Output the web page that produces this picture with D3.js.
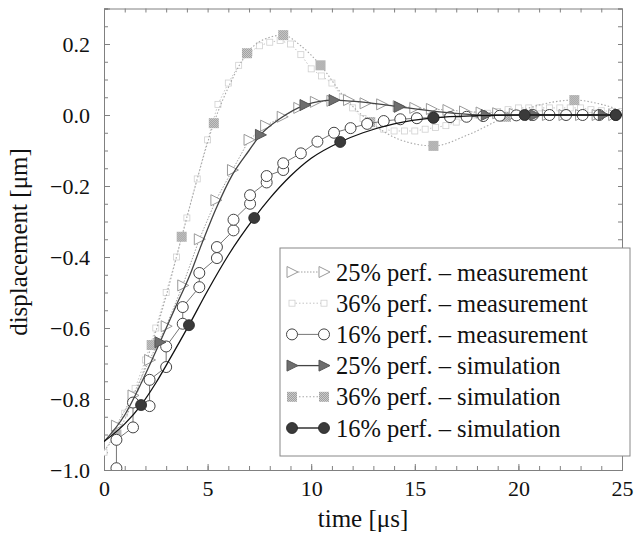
<!DOCTYPE html>
<html><head><meta charset="utf-8">
<script src="https://cdn.jsdelivr.net/npm/d3@7"></script>
<style>
body{margin:0;background:#fff;}
svg{display:block;font-family:"Liberation Serif","Times New Roman",serif;}
</style></head>
<body>
<svg id="c" width="637" height="535"></svg>
<script>
// ---------- DATA ----------
const xTicks = [0, 5, 10, 15, 20, 25];
const yTicks = [-1.0, -0.8, -0.6, -0.4, -0.2, 0.0, 0.2];
const seriesNames = [
  "25% perf. \u2013 measurement",
  "36% perf. \u2013 measurement",
  "16% perf. \u2013 measurement",
  "25% perf. \u2013 simulation",
  "36% perf. \u2013 simulation",
  "16% perf. \u2013 simulation"
];
// measurement 25% (open triangles)
const meas25T = [0.6,1.4,2.2,3.0,3.8,4.6,5.4,6.2,7.0,7.8,8.6,9.4,10.2,11.0,11.8,12.6,13.4,14.2,15.0,15.8,16.6,17.4,18.2,19.0,19.8,20.6,21.4,22.2,23.0,23.8,24.6];
const meas25V = [-0.875,-0.79,-0.69,-0.595,-0.48,-0.35,-0.24,-0.155,-0.07,-0.03,-0.005,0.02,0.037,0.04,0.042,0.033,0.03,0.025,0.02,0.017,0.014,0.01,0.007,0.005,0.003,0.0,0.0,0.0,0.0,0.0,0.0];
// measurement 36% (faint squares)
const meas36T = [0,0.5,1,1.5,2,2.5,3,3.5,4,4.5,5,5.5,6,6.5,7,7.5,8,8.5,9,9.5,10,10.5,11,11.5,12,12.5,13,13.5,14,14.5,15,15.5,16,16.5,17,17.5,18,18.5,19,19.5,20,20.5,21,21.5,22,22.5,23,23.5,24,24.5,25];
const meas36V = [-0.95,-0.9,-0.84,-0.77,-0.69,-0.6,-0.5,-0.4,-0.29,-0.18,-0.07,0.03,0.09,0.14,0.175,0.195,0.205,0.21,0.2,0.17,0.13,0.11,0.09,0.05,0.02,-0.01,-0.03,-0.04,-0.045,-0.045,-0.045,-0.04,-0.035,-0.03,-0.02,-0.01,0.0,0.005,0.01,0.015,0.02,0.02,0.02,0.02,0.02,0.02,0.02,0.015,0.012,0.01,0.01];
// measurement 16% (open circles)
const meas16T = [0.6,0.6,1.4,1.4,2.2,2.2,3.0,3.0,3.8,3.8,4.6,4.6,5.45,5.45,6.25,6.25,7.05,7.05,7.85,7.85,8.65,8.65,9.5,10.3,11.1,11.9,12.7,13.5,14.3,15.1,15.9,16.7,17.5,18.3,19.1,19.9,20.7,21.5,22.3,23.1,23.9,24.7];
const meas16V = [-0.995,-0.915,-0.88,-0.81,-0.82,-0.746,-0.71,-0.652,-0.588,-0.541,-0.485,-0.445,-0.403,-0.372,-0.325,-0.295,-0.25,-0.226,-0.19,-0.172,-0.155,-0.136,-0.108,-0.075,-0.05,-0.037,-0.025,-0.017,-0.012,-0.009,-0.007,-0.006,-0.005,-0.003,-0.002,-0.001,0,0,0,0,0,0];
// simulation 25% (filled triangles)
const sim25T = [0,1,1.8,2.7,3.43,4.15,4.64,5.4,6.2,7.0,7.55,8.5,9.7,11.1,12.5,14.25,16,18.45,20.8,24.1,25];
const sim25V = [-0.92,-0.845,-0.755,-0.64,-0.544,-0.45,-0.375,-0.265,-0.168,-0.1,-0.056,-0.01,0.028,0.042,0.036,0.023,0.01,0.0,0,0,0];
const sim25Marks = [2.7,7.55,9.7,11.1,14.25,18.45,20.8,24.1];
// simulation 36% (checkered squares)
const sim36T = [0,0.6,1.5,2.3,3,3.75,4.5,5.3,6.1,6.9,7.8,8.65,9.5,10.45,11.6,12.85,14.3,15.9,17.6,19.4,21,22.7,24,25];
const sim36V = [-0.945,-0.9,-0.79,-0.648,-0.51,-0.343,-0.18,-0.023,0.09,0.174,0.215,0.225,0.195,0.14,0.05,-0.02,-0.07,-0.087,-0.055,-0.005,0.028,0.042,0.03,0.012];
const sim36Marks = [0.6,2.3,3.75,5.3,6.9,8.65,10.45,12.85,15.9,19.4,22.7];
// simulation 16% (filled circles)
const sim16T = [0,1,1.79,2.5,3.2,4.1,5,6,7.25,8,9,10,11.4,12.5,14,15.9,18,20.3,22.5,24.7,25];
const sim16V = [-0.92,-0.87,-0.817,-0.755,-0.685,-0.592,-0.495,-0.395,-0.29,-0.235,-0.172,-0.122,-0.076,-0.05,-0.025,-0.008,-0.002,0,0,0,0];
const sim16Marks = [1.79,4.1,7.25,11.4,15.9,20.3,24.7];

// ---------- CHART ----------
const svg = d3.select("#c");
const x = d3.scaleLinear().domain([0,25]).range([104,622]);
const y = d3.scaleLinear().domain([-1,0.3]).range([470,8.5]);

const defs = svg.append("defs");
const pat = defs.append("pattern").attr("id","chk").attr("patternUnits","userSpaceOnUse")
  .attr("width",2).attr("height",2);
pat.append("rect").attr("width",2).attr("height",2).attr("fill","#dadada");
pat.append("rect").attr("width",1).attr("height",1).attr("fill","#909090");
pat.append("rect").attr("x",1).attr("y",1).attr("width",1).attr("height",1).attr("fill","#909090");
defs.append("clipPath").attr("id","clip").append("rect")
  .attr("x",104).attr("y",8.5).attr("width",518).attr("height",461.5);

const zip = (T,V) => T.map((t,i)=>({t, v:V[i]}));
const pick = (T,V,M) => M.map(m => ({t:m, v:V[T.indexOf(m)]}));

// axes frame
const fmt = d3.format(".1f");
const axisStyle = g => {
  g.select(".domain").attr("stroke","#808080").attr("stroke-width",1);
  g.selectAll(".tick line").attr("stroke","#808080");
  g.selectAll("text").attr("font-size",22).attr("fill","#111").attr("font-family","\"Liberation Serif\",serif");
};
const minorX = d3.range(0,26,1), minorY = d3.range(-1,0.301,0.05).map(v=>+v.toFixed(2));

svg.append("g").attr("transform","translate(0,470)")
  .call(d3.axisBottom(x).tickValues(minorX).tickSize(-4).tickFormat("")).call(axisStyle);
svg.append("g").attr("transform","translate(0,470)")
  .call(d3.axisBottom(x).tickValues(xTicks).tickSize(-6).tickPadding(10).tickFormat(d3.format("d"))).call(axisStyle);
svg.append("g").attr("transform","translate(0,8.5)")
  .call(d3.axisTop(x).tickValues(minorX).tickSize(-4).tickFormat("")).call(axisStyle);
svg.append("g").attr("transform","translate(104,0)")
  .call(d3.axisLeft(y).tickValues(minorY).tickSize(-4).tickFormat("")).call(axisStyle);
svg.append("g").attr("transform","translate(104,0)")
  .call(d3.axisLeft(y).tickValues(yTicks).tickSize(-6).tickPadding(14).tickFormat(fmt)).call(axisStyle);
svg.append("g").attr("transform","translate(622,0)")
  .call(d3.axisRight(y).tickValues(minorY).tickSize(-4).tickFormat("")).call(axisStyle);

// axis titles
svg.append("text").attr("x",363).attr("y",527).attr("text-anchor","middle")
  .attr("font-size",25).attr("fill","#111").text("time [\u03bcs]");
svg.append("text").attr("transform","translate(27,242) rotate(-90)").attr("text-anchor","middle")
  .attr("font-size",25).attr("fill","#111").text("displacement [\u03bcm]");

// marker shapes
const triPath = "M-5,-5.5L6,0L-5,5.5Z";
function drawMarker(g, kind){
  if(kind==="triOpen") g.append("path").attr("d",triPath).attr("fill","#fff").attr("stroke","#9a9a9a").attr("stroke-width",1);
  else if(kind==="triFill") g.append("path").attr("d",triPath).attr("fill","#6e6e6e").attr("stroke","#555").attr("stroke-width",1);
  else if(kind==="sqFaint") g.append("rect").attr("x",-3).attr("y",-3).attr("width",6).attr("height",6).attr("fill","#fff").attr("stroke","#d0d0d0").attr("stroke-width",0.8);
  else if(kind==="circOpen") g.append("circle").attr("r",5.5).attr("fill","#fff").attr("stroke","#444").attr("stroke-width",1);
  else if(kind==="sqChk") g.append("rect").attr("x",-5).attr("y",-5).attr("width",10).attr("height",10).attr("fill","url(#chk)");
  else if(kind==="circFill") g.append("circle").attr("r",5.5).attr("fill","#3a3a3a").attr("stroke","#222").attr("stroke-width",0.8);
}

const series = [
  {name:seriesNames[1], line:zip(meas36T,meas36V), marks:zip(meas36T,meas36V), kind:"sqFaint", stroke:"#c4c4c4", dash:"1.5,2", w:1, curve:d3.curveLinear},
  {name:seriesNames[4], line:zip(sim36T,sim36V), marks:pick(sim36T,sim36V,sim36Marks), kind:"sqChk", stroke:"#a8a8a8", dash:"1.5,2", w:1.1, curve:d3.curveMonotoneX},
  {name:seriesNames[0], line:zip(meas25T,meas25V), marks:zip(meas25T,meas25V), kind:"triOpen", stroke:"#a0a0a0", dash:"1.5,1.5", w:1, curve:d3.curveLinear},
  {name:seriesNames[2], line:zip(meas16T,meas16V), marks:zip(meas16T,meas16V), kind:"circOpen", stroke:"#666", dash:null, w:0.9, curve:d3.curveLinear},
  {name:seriesNames[3], line:zip(sim25T,sim25V), marks:pick(sim25T,sim25V,sim25Marks), kind:"triFill", stroke:"#444", dash:null, w:1.3, curve:d3.curveMonotoneX},
  {name:seriesNames[5], line:zip(sim16T,sim16V), marks:pick(sim16T,sim16V,sim16Marks), kind:"circFill", stroke:"#111", dash:null, w:1.3, curve:d3.curveMonotoneX}
];

const plot = svg.append("g").attr("clip-path","url(#clip)");
series.forEach(s=>{
  const line = d3.line().x(d=>x(d.t)).y(d=>y(d.v)).curve(s.curve);
  plot.append("path").datum(s.line).attr("d",line).attr("fill","none")
    .attr("stroke",s.stroke).attr("stroke-width",s.w).attr("stroke-dasharray",s.dash);
  plot.selectAll(null).data(s.marks).enter().append("g")
    .attr("transform",d=>`translate(${x(d.t)},${y(d.v)})`)
    .each(function(){ drawMarker(d3.select(this), s.kind); });
});

// legend
const lg = svg.append("g");
lg.append("rect").attr("x",280).attr("y",248).attr("width",350).attr("height",208)
  .attr("fill","#fff").attr("stroke","#888").attr("stroke-width",1);
seriesNames.forEach((nm,i)=>{
  const s = series.find(q=>q.name===nm);
  const cy = 272 + i*31.2;
  lg.append("line").attr("x1",292).attr("x2",324).attr("y1",cy).attr("y2",cy)
    .attr("stroke",s.stroke).attr("stroke-width",s.w).attr("stroke-dasharray",s.dash);
  [292,324].forEach(px=>{
    const g = lg.append("g").attr("transform",`translate(${px},${cy})`);
    drawMarker(g, s.kind);
  });
  lg.append("text").attr("x",336).attr("y",cy).attr("dy","0.35em")
    .attr("font-size",24.5).attr("fill","#111").text(nm);
});
</script>
</body></html>
